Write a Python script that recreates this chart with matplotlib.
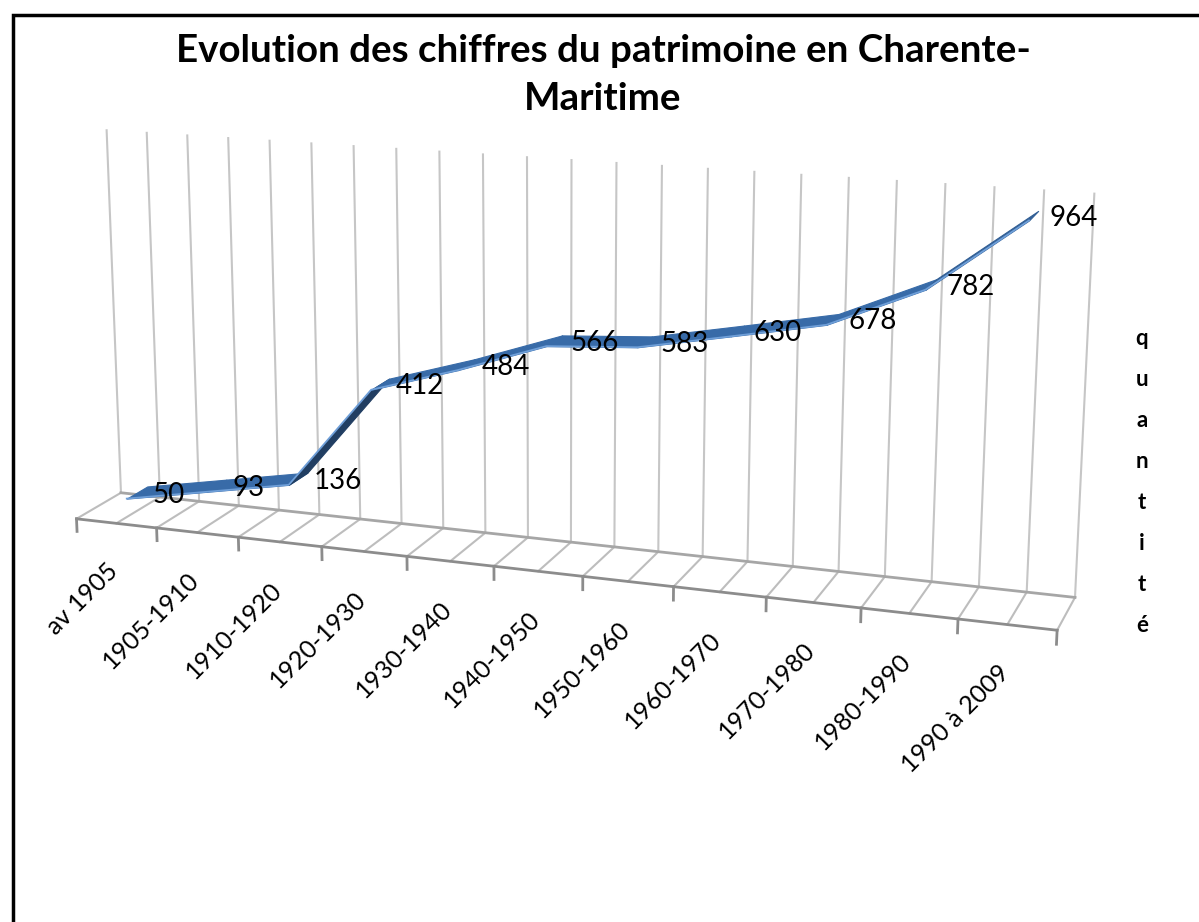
import numpy as np
import matplotlib.pyplot as plt
from matplotlib.patches import Rectangle
from matplotlib.transforms import offset_copy
from mpl_toolkits.mplot3d import proj3d
from mpl_toolkits.mplot3d.art3d import Poly3DCollection

# nombre de monuments par periode
periodes = ["av 1905", "1905-1910", "1910-1920", "1920-1930", "1930-1940",
            "1940-1950", "1950-1960", "1960-1970", "1970-1980", "1980-1990",
            "1990 à 2009"]
quantites = [50, 93, 136, 412, 484, 566, 583, 630, 678, 782, 964]

plt.rcParams['font.family'] = ['Lato', 'DejaVu Sans']

n = len(periodes)
prof = 1.056    # profondeur du plancher (en largeurs de categorie)
zmax = 1000

W, H = 1199, 922
fig = plt.figure(figsize=(W / 100, H / 100), dpi=100)
cote = 1086.7   # cote du carre de l'axe 3d, en pixels
ax = fig.add_axes([-3.25 / W, -2.05 / H, cote / W, cote / H], projection='3d',
                  computed_zorder=False)
ax.patch.set_alpha(0)
ax.set_proj_type('persp', focal_length=0.489)
ax.view_init(elev=14.52, azim=-70.48)
ax.set_xlim(0, n)
ax.set_ylim(0, prof)
ax.set_zlim(0, zmax)
ax.set_box_aspect((n, prof, 4.232), zoom=1)
ax.set_axis_off()

# quadrillage vertical au fond + lignes du plancher
for k in range(2 * n + 1):
    x = k / 2
    ax.plot([x, x], [prof, prof], [0, zmax], color='#c6c6c6', lw=1.5, zorder=1, clip_on=False)
    ax.plot([x, x], [0, prof], [0, 0], color='#bdbdbd', lw=1.5, zorder=1, clip_on=False)
ax.plot([0, n], [prof, prof], [0, 0], color='#a6a6a6', lw=2, zorder=1, clip_on=False)
ax.plot([0, n], [0, 0], [0, 0], color='#8c8c8c', lw=2, zorder=2, clip_on=False)
for k in range(n + 1):
    ax.plot([k, k], [0, 0], [0, -35], color='#8c8c8c', lw=2, zorder=2, clip_on=False)

# ruban de la serie
y0, y1 = 0.25 * prof, 0.72 * prof
xs = np.arange(n) + 0.5
for i in range(n - 1):
    verts = [[(xs[i], y0, quantites[i]), (xs[i + 1], y0, quantites[i + 1]),
              (xs[i + 1], y1, quantites[i + 1]), (xs[i], y1, quantites[i])]]
    hausse = quantites[i + 1] - quantites[i]
    sombre = np.clip((hausse - 150) / 120, 0, 1)
    col = np.array([0.22, 0.42, 0.66]) * (1 - 0.42 * sombre)
    poly = Poly3DCollection(verts, facecolor=col, edgecolor=col, lw=0.8, zorder=3)
    poly.set_clip_on(False)
    ax.add_collection3d(poly)
# reflet clair sur le bord avant du ruban
ax.plot(xs, [y0] * n, quantites, color='#6f9fd8', lw=1.3, zorder=3, clip_on=False)

# textes places en 2D a partir de la projection
fig.canvas.draw()
M = ax.get_proj()

for i in range(n):
    px, py, _ = proj3d.proj_transform(xs[i], 0.48 * prof, quantites[i], M)
    tr = offset_copy(ax.transData, fig=fig, x=16, y=-2, units='dots')
    ax.text2D(px, py, str(quantites[i]), transform=tr, fontsize=20,
              ha='left', va='center', zorder=4)

for i in range(n):
    px, py, _ = proj3d.proj_transform(xs[i], 0, 0, M)
    tr = offset_copy(ax.transData, fig=fig, x=-2, y=-44, units='dots')
    ax.text2D(px, py, periodes[i], transform=tr, rotation=45, ha='right', va='center',
              rotation_mode='anchor', fontsize=18, zorder=4)

fig.text(0.503, 1 - 34 / H, "Evolution des chiffres du patrimoine en Charente-\nMaritime",
         ha='center', va='top', fontsize=27.7, fontweight='bold', linespacing=1.5)
fig.text(1142 / W, 1 - 482 / H, "\n".join("quantité"), ha='center', va='center',
         fontsize=16, fontweight='bold', linespacing=2.17)

fig.patches.append(Rectangle((13 / W, -0.1), 1.2, 1.1 - 15 / H, transform=fig.transFigure,
                             fill=False, ec='black', lw=2.5))

fig.savefig("out.png", dpi=100)
